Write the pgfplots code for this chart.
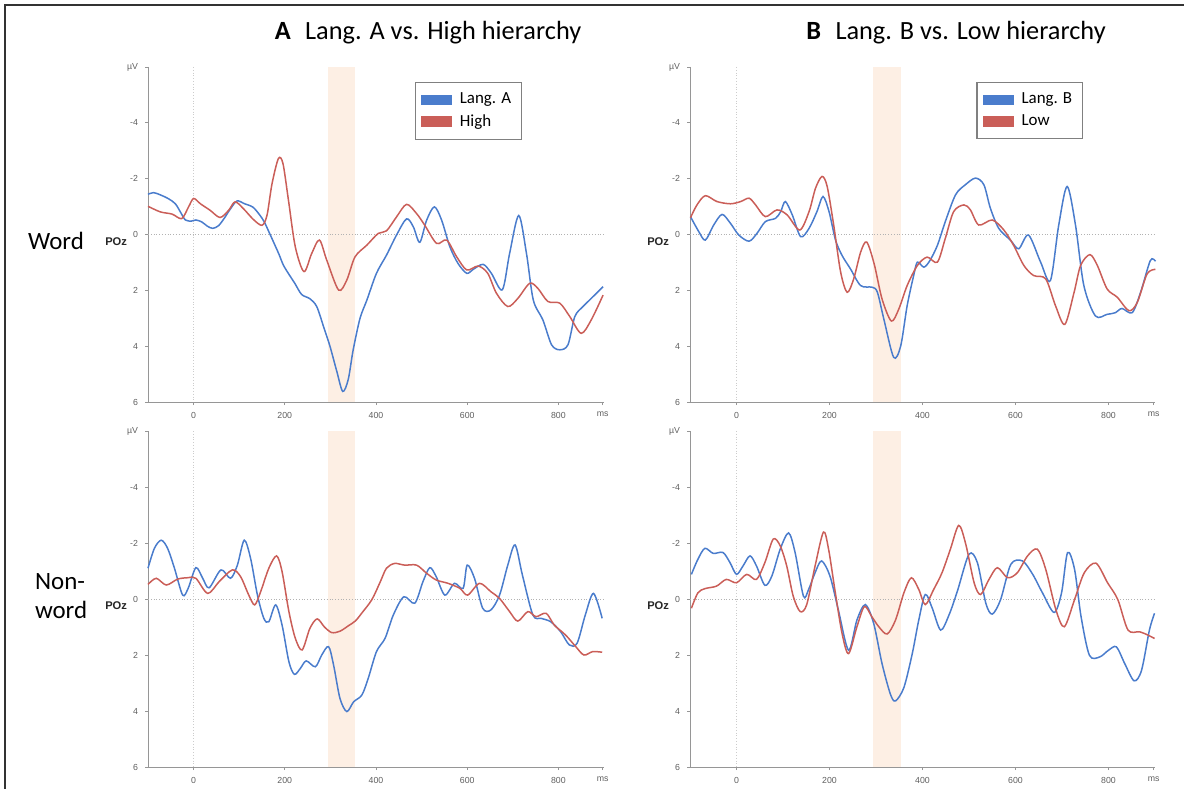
\documentclass[border=0pt]{standalone}
\usepackage{fontspec}
\setmainfont{Carlito}
\newfontfamily\arialfont{Liberation Sans}
\usepackage{pgfplots}
\pgfplotsset{compat=1.18}

\definecolor{condblue}{RGB}{74,124,204}
\definecolor{condred}{RGB}{202,94,88}
\definecolor{window}{RGB}{253,239,228}
\definecolor{axgray}{RGB}{150,150,150}
\definecolor{tickgray}{RGB}{95,95,95}

\pgfplotsset{
  erp/.style={
    scale only axis,
    height=167.5bp,
    xmin=-100, xmax=900, ymin=-6, ymax=6, y dir=reverse,
    axis x line=bottom, axis y line=left,
    axis line style={axgray, line width=0.5bp, -},
    xtick={0,200,400,600,800,897}, xticklabels={0,200,400,600,800,ms},
    ytick={-6,-4,-2,0,2,4,6}, yticklabels={µV,-4,-2,0,2,4,6},
    tick style={axgray, line width=0.4bp}, major tick length=1.5bp, tick align=outside,
    ticklabel style={font=\arialfont\fontsize{4.4}{5}\selectfont, text=tickgray},
    clip=false,
    every axis plot/.append style={line width=0.75bp, smooth, tension=0.5, mark=none},
    legend image code/.code={\fill[##1] (0bp,-2.3bp) rectangle (14.5bp,2.3bp);},
    legend style={draw=gray, line width=0.6bp, fill=white,
      font=\fontsize{8.5}{10}\selectfont, inner xsep=3bp, inner ysep=3.2bp,
      row sep=-0.3bp, cells={anchor=west}},
  },
}

% analysis window, zero lines and electrode label
\newcommand{\erpframe}{%
  \fill[window] (axis cs:294,-6) rectangle (axis cs:353,6);
  \draw[gray!60, line width=0.4bp, densely dotted] (axis cs:-100,0) -- (axis cs:900,0);
  \draw[gray!40, line width=0.4bp, densely dotted] (axis cs:0,-6) -- (axis cs:0,6);
  \node[anchor=east, font=\arialfont\bfseries\fontsize{5.6}{6}\selectfont, text=black!85]
    at ([xshift=-7bp,yshift=-3.5bp]axis cs:-100,0) {POz};
}

\begin{document}
\begin{tikzpicture}
\useasboundingbox (0,0) rectangle (592bp,394.5bp);
\draw[line width=0.8bp, black!80] (2.5bp,0) -- (2.5bp,392bp) -- (592bp,392bp);

\node[font=\fontsize{13.2}{15}\selectfont] at (214bp,378bp) {\textbf{A}\hspace{0.55em}Lang. A vs. High hierarchy};
\node[font=\fontsize{13.2}{15}\selectfont] at (478bp,378bp) {\textbf{B}\hspace{0.55em}Lang. B vs. Low hierarchy};
\node[font=\fontsize{12.5}{14}\selectfont] at (28bp,274bp) {Word};
\node[font=\fontsize{12.5}{14.5}\selectfont, align=left, anchor=west] at (14bp,96.5bp) {Non-\\word};

% ---- A: Word ----
\begin{axis}[erp, width=228bp, at={(74bp,193.5bp)}, anchor=south west,
  legend style={at={(0.585,0.955)}, anchor=north west}]
\erpframe
\addplot[condblue] coordinates {
(-100,-1.44) (-88,-1.5) (-73,-1.42) (-55,-1.28) (-40,-1.1) (-28,-0.78) (-18,-0.52)
(-5,-0.48) (5,-0.52) (18,-0.45) (30,-0.3) (42,-0.22) (55,-0.32) (68,-0.6) (80,-0.9)
(95,-1.2) (112,-1.1) (130,-0.98) (145,-0.7) (155,-0.45) (165,-0.1) (175,0.26) (187,0.7)
(197,1.1) (210,1.45) (222,1.75) (237,2.15) (255,2.3) (270,2.58) (285,3.3) (299,4.0)
(314,4.9) (327,5.62) (339,5.2) (350,4.13) (365,3.0) (380,2.35) (401,1.39) (423,0.74)
(445,0.02) (467,-0.56) (482,-0.27) (496,0.28) (511,-0.51) (528,-0.99) (544,-0.51)
(562,0.44) (580,1.04) (599,1.39) (613,1.25) (635,1.07) (653,1.39) (677,1.98) (693,0.68)
(713,-0.68) (730,0.68) (745,2.35) (766,3.06) (785,3.95) (803,4.13) (821,3.95) (836,2.94)
(854,2.58) (872,2.29) (898,1.87)};
\addlegendentry{\hspace{2bp}Lang. A}
\addplot[condred] coordinates {
(-100,-1.01) (-73,-0.81) (-47,-0.73) (-26,-0.57) (-11,-0.99) (0,-1.29) (15,-1.1)
(36,-0.87) (58,-0.61) (77,-0.87) (91,-1.17) (109,-0.93) (131,-0.54) (150,-0.33)
(161,-0.69) (172,-1.82) (186,-2.72) (196,-2.54) (208,-1.23) (223,0.44) (242,1.33)
(259,0.68) (276,0.2) (292,0.92) (318,1.99) (336,1.63) (354,0.8) (380,0.38) (405,-0.04)
(423,-0.13) (445,-0.63) (467,-1.08) (489,-0.75) (507,-0.33) (533,0.32) (555,0.2)
(577,0.8) (599,1.27) (624,1.13) (645,1.39) (664,2.1) (689,2.58) (711,2.29) (737,1.75)
(755,1.93) (777,2.4) (803,2.46) (825,2.94) (850,3.54) (872,3.06) (898,2.17)};
\addlegendentry{\hspace{2bp}High}
\end{axis}

% ---- B: Word ----
\begin{axis}[erp, width=232.5bp, at={(345bp,193.5bp)}, anchor=south west,
  legend style={at={(0.616,0.955)}, anchor=north west}]
\erpframe
\addplot[condblue] coordinates {
(-99,-0.64) (-81,-0.1) (-67,0.2) (-49,-0.34) (-31,-0.72) (-13,-0.4) (5,0.02) (27,0.24)
(44,-0.04) (62,-0.46) (84,-0.58) (95,-0.82) (105,-1.18) (120,-0.7) (138,0.08)
(156,-0.22) (173,-0.82) (186,-1.36) (199,-0.82) (213,0.2) (227,0.75) (245,1.23)
(267,1.83) (292,1.89) (303,2.07) (317,3.04) (338,4.4) (353,4.0) (367,2.55) (381,1.47)
(389,0.99) (403,1.17) (416,0.93) (432,0.39) (449,-0.46) (471,-1.42) (492,-1.78)
(514,-2.02) (532,-1.78) (546,-0.94) (564,-0.22) (589,0.2) (607,0.51) (628,0.02)
(654,0.99) (675,1.65) (693,-0.34) (711,-1.72) (729,-0.34) (747,1.83) (772,2.92)
(797,2.86) (815,2.8) (829,2.65) (851,2.8) (869,2.07) (890,0.93) (901,0.96)};
\addlegendentry{\hspace{2bp}Lang. B\hspace{1.5bp}}
\addplot[condred] coordinates {
(-99,-0.6) (-85,-1.06) (-67,-1.39) (-42,-1.18) (-13,-1.1) (9,-1.18) (27,-1.3) (41,-1.06)
(62,-0.64) (87,-0.88) (109,-0.7) (136,-0.16) (156,-0.82) (170,-1.66) (184,-2.08)
(195,-1.72) (209,-0.34) (224,1.35) (238,2.07) (252,1.59) (267,0.63) (280,0.27)
(296,1.05) (313,2.31) (333,3.1) (349,2.67) (367,1.83) (389,1.11) (410,0.81) (432,0.99)
(449,0.14) (467,-0.82) (489,-1.06) (503,-0.88) (521,-0.34) (550,-0.52) (575,-0.16)
(596,0.39) (618,1.11) (639,1.47) (665,1.59) (686,2.55) (706,3.22) (726,2.07)
(740,1.11) (760,0.72) (776,1.11) (797,1.95) (819,2.25) (844,2.73) (862,2.43)
(883,1.41) (901,1.25)};
\addlegendentry{\hspace{2bp}Low}
\end{axis}

% ---- A: Non-word ----
\begin{axis}[erp, width=228bp, at={(74bp,11bp)}, anchor=south west, height=168bp]
\erpframe
\addplot[condblue] coordinates {
(-100,-1.1) (-86,-1.81) (-71,-2.1) (-57,-1.81) (-42,-1.1) (-24,-0.14) (-12,-0.38)
(5,-1.12) (20,-0.74) (34,-0.4) (60,-1.04) (81,-0.74) (96,-1.21) (111,-2.1) (125,-1.45)
(140,-0.14) (154,0.69) (165,0.81) (180,0.21) (194,0.93) (209,2.24) (221,2.69)
(234,2.48) (247,2.21) (267,2.42) (281,2.0) (296,1.7) (307,2.36) (321,3.55) (336,4.02)
(351,3.67) (369,3.43) (383,2.83) (401,1.88) (420,1.4) (438,0.57) (461,-0.08)
(485,0.15) (503,-0.62) (518,-1.12) (532,-0.8) (551,-0.14) (572,-0.56) (591,-0.38)
(600,-1.21) (616,-0.74) (634,0.33) (652,0.39) (671,-0.14) (689,-1.21) (705,-1.93)
(721,-0.86) (744,0.57) (762,0.69) (783,0.81) (805,1.17) (824,1.64) (841,1.58)
(859,0.57) (877,-0.2) (896,0.69)};
\addplot[condred] coordinates {
(-100,-0.52) (-82,-0.74) (-60,-0.5) (-35,-0.71) (-13,-0.76) (5,-0.74) (31,-0.2)
(56,-0.62) (85,-1.04) (103,-0.8) (121,-0.14) (134,0.21) (147,-0.26) (165,-1.1)
(182,-1.54) (194,-0.98) (209,0.45) (223,1.4) (238,1.82) (255,1.05) (271,0.71)
(287,1.0) (303,1.2) (321,1.15) (340,0.95) (355,0.78) (369,0.5) (391,0.02) (409,-0.6)
(423,-1.1) (441,-1.27) (463,-1.21) (489,-1.21) (511,-0.92) (532,-0.68) (558,-0.56)
(584,-0.38) (601,-0.14) (627,-0.56) (652,-0.26) (671,-0.02) (693,0.45) (711,0.79)
(733,0.45) (751,0.63) (773,0.51) (791,0.93) (816,1.29) (838,1.7) (856,2.0) (875,1.88)
(896,1.9)};
\end{axis}

% ---- B: Non-word ----
\begin{axis}[erp, width=232.5bp, at={(345bp,11bp)}, anchor=south west, height=168bp]
\erpframe
\addplot[condblue] coordinates {
(-97,-0.88) (-83,-1.42) (-68,-1.81) (-50,-1.63) (-29,-1.66) (-14,-1.3) (0,-0.88)
(14,-1.18) (29,-1.54) (43,-1.18) (61,-0.49) (76,-0.82) (94,-1.78) (112,-2.36)
(126,-1.66) (144,-0.1) (155,-0.34) (169,-0.94) (183,-1.36) (201,-0.82) (219,0.39)
(241,1.83) (259,0.75) (277,0.2) (295,0.87) (313,2.31) (331,3.4) (342,3.64) (360,3.16)
(378,1.95) (392,0.75) (406,-0.16) (421,0.33) (439,1.11) (457,0.57) (475,-0.28)
(500,-1.6) (518,-1.3) (536,0.14) (550,0.54) (568,0.02) (590,-1.24) (615,-1.36)
(637,-0.88) (658,-0.22) (683,0.48) (699,-0.22) (712,-1.66) (727,-1.06) (741,0.63)
(759,2.01) (781,2.07) (800,1.83) (817,1.71) (835,2.31) (855,2.92) (871,2.55)
(888,1.11) (899,0.51)};
\addplot[condred] coordinates {
(-97,0.33) (-83,-0.22) (-68,-0.37) (-43,-0.46) (-22,-0.7) (0,-0.58) (22,-0.88)
(43,-0.7) (61,-1.3) (79,-2.14) (94,-1.9) (108,-1.18) (122,-0.1) (137,0.45) (151,0.2)
(169,-1.18) (187,-2.39) (198,-1.78) (212,-0.28) (227,1.23) (241,1.95) (259,0.99)
(275,0.27) (291,0.63) (306,0.99) (324,1.25) (342,0.75) (360,-0.22) (376,-0.76)
(392,-0.34) (406,0.2) (424,-0.34) (442,-0.94) (460,-1.78) (478,-2.63) (493,-1.96)
(511,-0.58) (525,-0.16) (543,-0.7) (561,-1.12) (583,-0.76) (604,-0.94) (626,-1.54)
(647,-1.78) (665,-1.06) (687,0.39) (705,0.99) (727,0.02) (748,-0.94) (773,-1.28)
(798,-0.58) (820,0.02) (842,1.11) (867,1.17) (885,1.29) (899,1.41)};
\end{axis}
\end{tikzpicture}
\end{document}
